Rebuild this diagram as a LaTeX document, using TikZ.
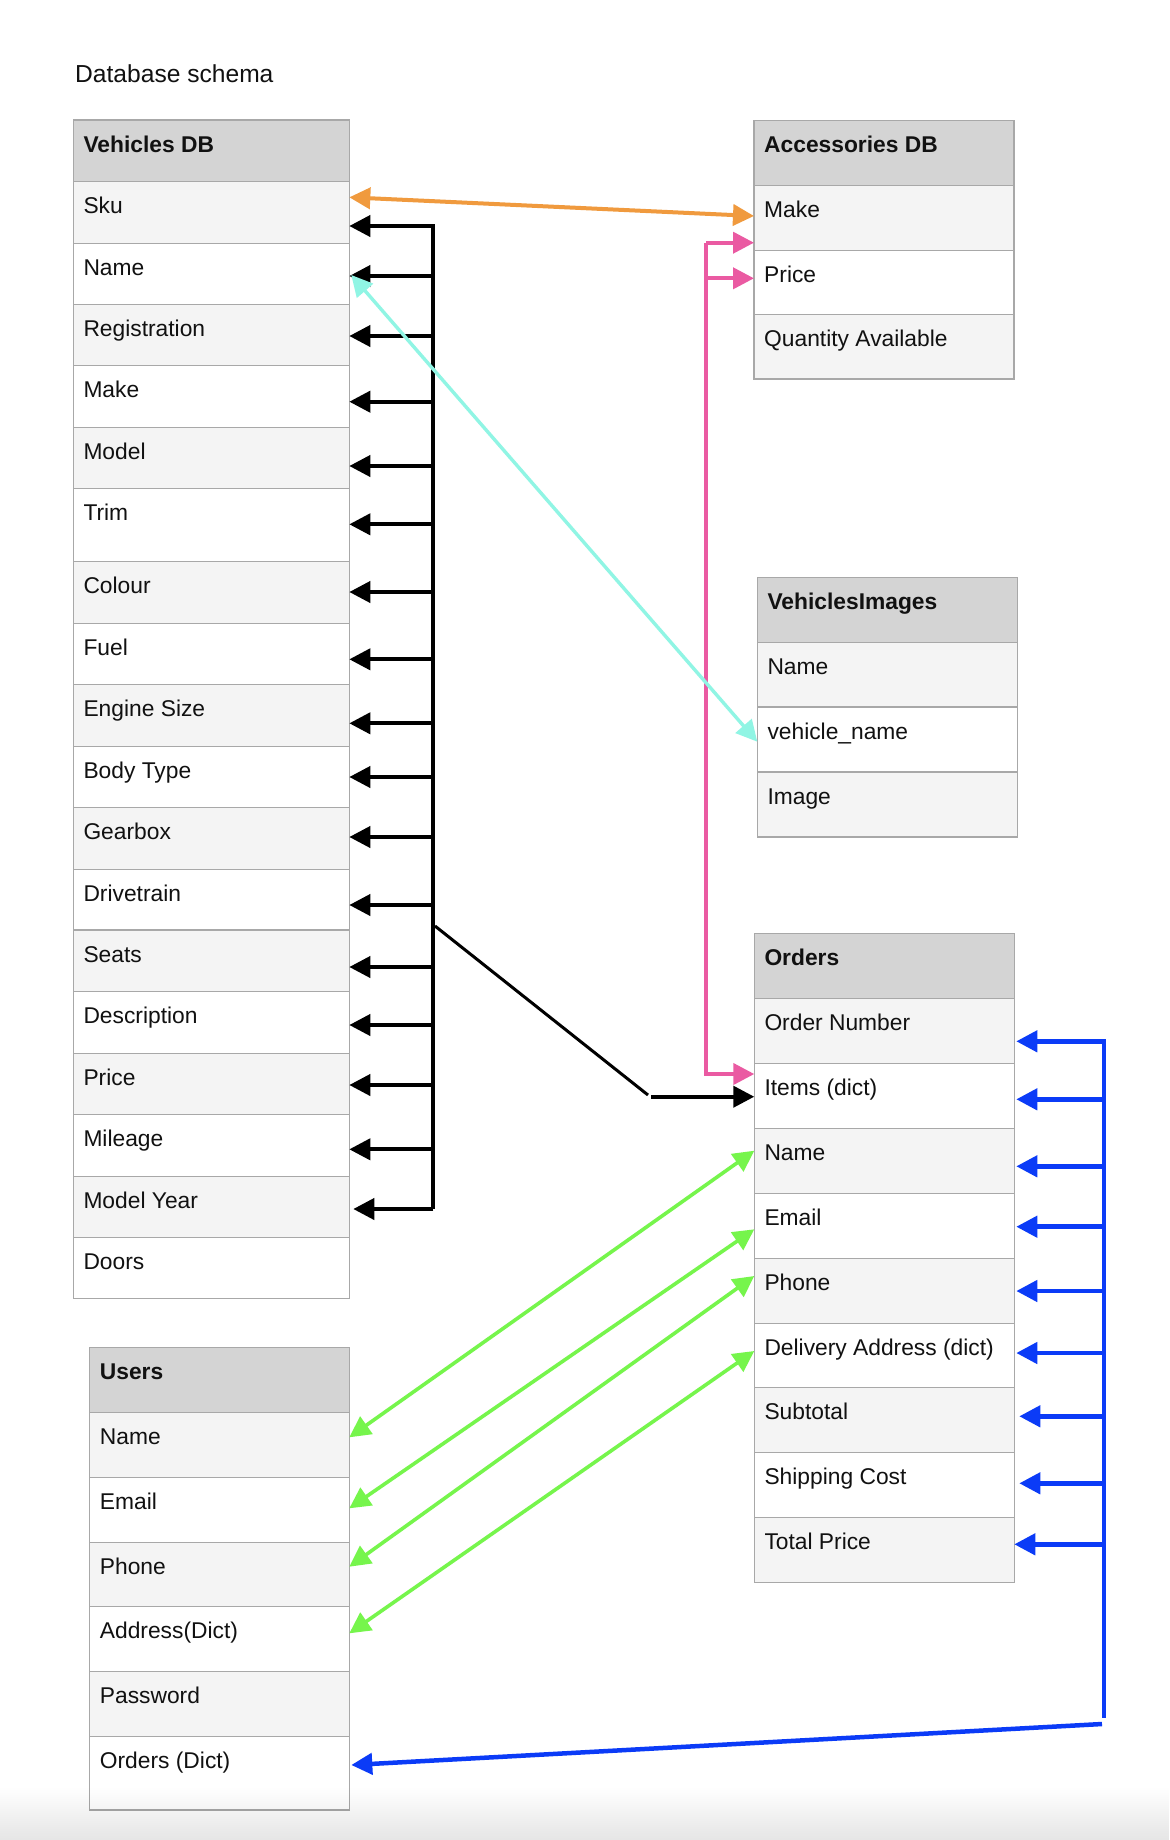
\documentclass[tikz,border=0pt]{standalone}
\usepackage{fontspec}
\setmainfont{Liberation Sans}
\usetikzlibrary{arrows.meta,fadings}

\definecolor{hdrgray}{HTML}{D4D4D4}
\definecolor{rowgray}{HTML}{F4F4F4}
\definecolor{edgegray}{HTML}{A8A8A8}
\definecolor{linkorange}{HTML}{F09A3E}
\definecolor{linkpink}{HTML}{EA5AA2}
\definecolor{linkcyan}{HTML}{90F5E4}
\definecolor{linkgreen}{HTML}{76F54C}
\definecolor{linkblue}{HTML}{0B3BF7}
\definecolor{inktext}{HTML}{111111}

\tikzfading[name=fadeup, top color=transparent!100, bottom color=transparent!0]

% one table cell: name, left x, top y, width, height, fill, text
\newcommand\dbrow[7]{%
  \node[cell, fill=#6, minimum width=#4pt, minimum height=#5pt, anchor=north west] (#1) at (#2,#3) {};
  \node[celltext] (#1-t) at ([xshift=10pt,yshift=-32pt]#1.north west) {#7};
}

\tikzset{
  cell/.style={draw=edgegray, line width=1.2pt, rectangle, inner sep=0pt, outer sep=0pt},
  celltext/.style={anchor=base west, inner sep=0pt, text=inktext, font=\fontsize{22.8}{27}\selectfont},
  headtip/.tip={Triangle[length=21pt,width=21pt]},
  blkline/.style={draw=black, line width=4pt},
  blkarr/.style={blkline, -headtip},
  bluearr/.style={draw=linkblue, line width=4.5pt, -headtip},
  pinkarr/.style={draw=linkpink, line width=4pt, -headtip},
  duallink/.style={line width=3.6pt, headtip-headtip},
}

\begin{document}
\begin{tikzpicture}[x=1pt, y=-1pt]
\fill[white] (0,0) rectangle (1170,1840);
\useasboundingbox (0,0) rectangle (1170,1840);

\node[anchor=base west, inner sep=0pt, text=inktext, font=\fontsize{24.6}{29}\selectfont] (title) at (75,82.7) {Database schema};

% Vehicles DB
\dbrow{v-hdr}{73.3}{120}{276}{61.3}{hdrgray}{\bfseries Vehicles DB}
\dbrow{v-sku}{73.3}{181.3}{276}{62}{rowgray}{Sku}
\dbrow{v-name}{73.3}{243.3}{276}{61}{white}{Name}
\dbrow{v-reg}{73.3}{304.3}{276}{61}{rowgray}{Registration}
\dbrow{v-make}{73.3}{365.3}{276}{62}{white}{Make}
\dbrow{v-model}{73.3}{427.3}{276}{61.4}{rowgray}{Model}
\dbrow{v-trim}{73.3}{488.7}{276}{72.6}{white}{Trim}
\dbrow{v-colour}{73.3}{561.3}{276}{62}{rowgray}{Colour}
\dbrow{v-fuel}{73.3}{623.3}{276}{61}{white}{Fuel}
\dbrow{v-engine}{73.3}{684.3}{276}{62}{rowgray}{Engine Size}
\dbrow{v-body}{73.3}{746.3}{276}{61}{white}{Body Type}
\dbrow{v-gear}{73.3}{807.3}{276}{62}{rowgray}{Gearbox}
\dbrow{v-drive}{73.3}{869.3}{276}{60.7}{white}{Drivetrain}
\dbrow{v-seats}{73.3}{930}{276}{61.3}{rowgray}{Seats}
\dbrow{v-desc}{73.3}{991.3}{276}{62}{white}{Description}
\dbrow{v-price}{73.3}{1053.3}{276}{61}{rowgray}{Price}
\dbrow{v-mileage}{73.3}{1114.3}{276}{62}{white}{Mileage}
\dbrow{v-year}{73.3}{1176.3}{276}{61}{rowgray}{Model Year}
\dbrow{v-doors}{73.3}{1237.3}{276}{61}{white}{Doors}

% Accessories DB
\dbrow{a-hdr}{754}{120.7}{260}{64.6}{hdrgray}{\bfseries Accessories DB}
\dbrow{a-make}{754}{185.3}{260}{65}{rowgray}{Make}
\dbrow{a-price}{754}{250.3}{260}{64}{white}{Price}
\dbrow{a-qty}{754}{314.3}{260}{64.7}{rowgray}{Quantity Available}

% VehiclesImages
\dbrow{i-hdr}{757.3}{577.3}{260}{65}{hdrgray}{\bfseries VehiclesImages}
\dbrow{i-name}{757.3}{642.3}{260}{64.7}{rowgray}{Name}
\dbrow{i-vname}{757.3}{707}{260}{65}{white}{vehicle\_name}
\dbrow{i-image}{757.3}{772}{260}{65}{rowgray}{Image}

% Orders
\dbrow{o-hdr}{754.3}{933.3}{260}{65}{hdrgray}{\bfseries Orders}
\dbrow{o-onum}{754.3}{998.3}{260}{65}{rowgray}{Order Number}
\dbrow{o-items}{754.3}{1063.3}{260}{65}{white}{Items (dict)}
\dbrow{o-name}{754.3}{1128.3}{260}{65}{rowgray}{Name}
\dbrow{o-email}{754.3}{1193.3}{260}{65}{white}{Email}
\dbrow{o-phone}{754.3}{1258.3}{260}{65}{rowgray}{Phone}
\dbrow{o-deliv}{754.3}{1323.3}{260}{64.4}{white}{Delivery Address (dict)}
\dbrow{o-sub}{754.3}{1387.7}{260}{64.6}{rowgray}{Subtotal}
\dbrow{o-ship}{754.3}{1452.3}{260}{65}{white}{Shipping Cost}
\dbrow{o-total}{754.3}{1517.3}{260}{65}{rowgray}{Total Price}

% Users
\dbrow{u-hdr}{89.7}{1347.7}{259.6}{64.6}{hdrgray}{\bfseries Users}
\dbrow{u-name}{89.7}{1412.3}{259.6}{65}{rowgray}{Name}
\dbrow{u-email}{89.7}{1477.3}{259.6}{65}{white}{Email}
\dbrow{u-phone}{89.7}{1542.3}{259.6}{64}{rowgray}{Phone}
\dbrow{u-addr}{89.7}{1606.3}{259.6}{65}{white}{Address(Dict)}
\dbrow{u-pass}{89.7}{1671.3}{259.6}{65}{rowgray}{Password}
\dbrow{u-orders}{89.7}{1736.3}{259.6}{73.7}{white}{Orders (Dict)}

% black bus feeding every vehicle field
\coordinate (vbus-top) at (433.3,226);
\coordinate (vbus-bot) at (433.3,1209);
\draw[blkarr] (vbus-bot) -- (vbus-top) -- (v-sku.east |- vbus-top);
\foreach \n/\y in {name/276, reg/336, make/401.7, model/466, trim/524.3,
    colour/592, fuel/659.3, engine/723.3, body/777, gear/837, drive/905,
    seats/967, desc/1025, price/1085, mileage/1149.3}
  \draw[blkarr] (433.3,\y) -- (v-\n.east |- 0,\y);
\draw[blkarr] (vbus-bot) -- ([xshift=4pt]v-year.east |- vbus-bot);

% vehicle bus into the order items
\coordinate (vbus-tap) at (435,926);
\coordinate (items-elbow) at (648,1095);
\coordinate (items-start) at (651,1096.7);
\draw[draw=black, line width=3pt] (vbus-tap) -- (items-elbow);
\draw[blkarr] (items-start) -- (o-items.west |- items-start);

% pink: accessories into the order items
\coordinate (pbus-top) at (706,242.7);
\coordinate (pbus-bot) at (706,1074);
\draw[pinkarr] (pbus-top) -- (a-make.west |- pbus-top);
\draw[pinkarr] (706,278.3) -- (a-price.west |- 0,278.3);
\draw[pinkarr] (pbus-top) -- (pbus-bot) -- (o-items.west |- pbus-bot);

% orange: sku to accessory make
\draw[duallink, draw=linkorange, line width=4pt] (v-sku.east |- 0,197.3) -- (a-make.west |- 0,216);

% green: user details to order details
\draw[duallink, draw=linkgreen] (u-name.east |- 0,1437.3) -- (o-name.west |- 0,1150.7);
\draw[duallink, draw=linkgreen] (u-email.east |- 0,1508.3) -- (o-email.west |- 0,1229.3);
\draw[duallink, draw=linkgreen] (u-phone.east |- 0,1566.7) -- (o-phone.west |- 0,1276);
\draw[duallink, draw=linkgreen] (u-addr.east |- 0,1633.3) -- (o-deliv.west |- 0,1351);

% blue bus: order fields to the user's orders
\coordinate (obus-top) at (1104,1041.3);
\coordinate (obus-bot) at (1104,1717.7);
\draw[bluearr] (obus-bot) -- (obus-top) -- ([xshift=2pt]o-onum.east |- obus-top);
\foreach \n/\y/\dx in {items/1099.3/2, name/1166.3/2, email/1226.7/2, phone/1291/2,
    deliv/1353/2, sub/1416.3/5, ship/1483.3/5, total/1544.3/0}
  \draw[bluearr] (1104,\y) -- ([xshift=\dx pt]o-\n.east |- 0,\y);
\coordinate (obus-foot) at (1102,1724);
\draw[bluearr] (obus-foot) -- ([xshift=2pt]u-orders.east |- 0,1765);

% cyan: vehicle name to image vehicle_name
\draw[duallink, draw=linkcyan, line width=3.4pt] ([xshift=2pt]v-name.east |- 0,275) -- (i-vname.west |- 0,741.7);

% faint shade along the lower edge
\fill[black, opacity=0.1, path fading=fadeup] (0,1787) rectangle (1170,1840);
\end{tikzpicture}
\end{document}
